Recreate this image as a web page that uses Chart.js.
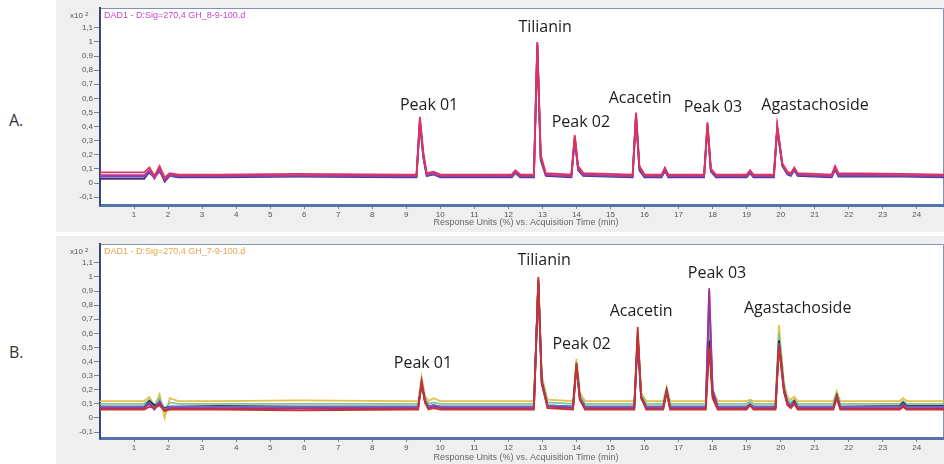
<!DOCTYPE html>
<html><head><meta charset="utf-8">
<script src="https://cdn.jsdelivr.net/npm/chart.js"></script>
<style>
html,body{margin:0;padding:0;background:#fff;width:944px;height:464px;overflow:hidden;}
#wa{position:absolute;left:0;top:0;width:944px;height:232px;}
#wb{position:absolute;left:0;top:236px;width:944px;height:228px;}
.lab{position:absolute;left:9px;font:16px "Open Sans";color:#333;}
</style></head><body>
<div class="lab" style="top:109px">A.</div>
<div class="lab" style="top:341px">B.</div>
<div id="wa"><canvas id="ca"></canvas></div>
<div id="wb"><canvas id="cb"></canvas></div>
<script>
// ---------- Panel A data ----------
const timeA = [0, 1.3, 1.45, 1.6, 1.75, 1.9, 2.05, 2.3, 3.5, 5.8, 8.9, 9.3, 9.4, 9.5, 9.6, 9.8, 10.0, 12.1, 12.2, 12.35, 12.75, 12.85, 12.95, 13.1, 13.85, 13.95, 14.05, 14.2, 15.65, 15.75, 15.85, 16.0, 16.5, 16.6, 16.7, 17.75, 17.85, 17.95, 18.1, 19.0, 19.1, 19.2, 19.8, 19.9, 20.05, 20.2, 20.3, 20.4, 20.5, 21.5, 21.6, 21.7, 23.6, 24.8];
const redA = [0.075, 0.075, 0.11, 0.05, 0.12, 0.04, 0.07, 0.06, 0.06, 0.065, 0.06, 0.06, 0.47, 0.22, 0.07, 0.08, 0.06, 0.06, 0.09, 0.06, 0.06, 1.0, 0.2, 0.07, 0.06, 0.34, 0.12, 0.07, 0.06, 0.5, 0.12, 0.06, 0.06, 0.11, 0.06, 0.06, 0.43, 0.1, 0.06, 0.06, 0.09, 0.06, 0.06, 0.41, 0.14, 0.08, 0.07, 0.11, 0.07, 0.06, 0.12, 0.07, 0.065, 0.06];
const magA = [0.055, 0.055, 0.09, 0.03, 0.1, 0.02, 0.06, 0.05, 0.05, 0.055, 0.05, 0.05, 0.45, 0.2, 0.06, 0.07, 0.05, 0.05, 0.08, 0.05, 0.05, 0.99, 0.18, 0.06, 0.05, 0.33, 0.1, 0.06, 0.05, 0.49, 0.11, 0.05, 0.05, 0.1, 0.05, 0.05, 0.42, 0.09, 0.05, 0.05, 0.08, 0.05, 0.05, 0.4, 0.13, 0.07, 0.06, 0.1, 0.06, 0.05, 0.11, 0.06, 0.055, 0.05];
const blueA = [0.045, 0.045, 0.07, 0.04, 0.08, 0.03, 0.05, 0.045, 0.045, 0.05, 0.045, 0.045, 0.44, 0.19, 0.05, 0.065, 0.045, 0.045, 0.075, 0.045, 0.045, 0.98, 0.17, 0.055, 0.045, 0.32, 0.1, 0.055, 0.045, 0.48, 0.1, 0.045, 0.045, 0.09, 0.045, 0.045, 0.41, 0.09, 0.045, 0.045, 0.075, 0.045, 0.045, 0.39, 0.13, 0.065, 0.055, 0.095, 0.055, 0.045, 0.1, 0.05, 0.05, 0.045];
const darkA = [0.03, 0.03, 0.08, 0.05, 0.09, 0.01, 0.05, 0.04, 0.04, 0.045, 0.04, 0.04, 0.43, 0.18, 0.05, 0.06, 0.04, 0.04, 0.07, 0.04, 0.04, 0.97, 0.16, 0.05, 0.04, 0.31, 0.09, 0.05, 0.04, 0.47, 0.09, 0.04, 0.04, 0.085, 0.04, 0.04, 0.4, 0.08, 0.04, 0.04, 0.07, 0.04, 0.04, 0.38, 0.12, 0.06, 0.05, 0.09, 0.05, 0.04, 0.095, 0.045, 0.045, 0.04];
const peakNamesA = ["Peak 01", "Tilianin", "Peak 02", "Acacetin", "Peak 03", "Agastachoside"];
const peakLabelXA = [9.67, 13.08, 14.13, 15.87, 18.01, 21.01];
const peakLabelYA = [0.553, 1.10, 0.433, 0.603, 0.539, 0.553];

// ---------- Panel B data ----------
const timeB = [0, 1.3, 1.45, 1.6, 1.75, 1.9, 2.05, 2.3, 3.5, 5.8, 9.0, 9.35, 9.45, 9.55, 9.65, 9.8, 10.0, 12.75, 12.88, 12.98, 13.15, 13.9, 14.0, 14.1, 14.25, 14.8, 15.7, 15.8, 15.9, 16.05, 16.55, 16.65, 16.75, 17.8, 17.9, 18.0, 18.15, 19.0, 19.1, 19.2, 19.85, 19.95, 20.1, 20.2, 20.3, 20.4, 20.5, 21.55, 21.65, 21.75, 23.5, 23.6, 23.7, 24.8];
const yellowB = [0.12, 0.12, 0.15, 0.08, 0.17, 0.0, 0.14, 0.12, 0.12, 0.125, 0.12, 0.12, 0.29, 0.16, 0.12, 0.14, 0.12, 0.12, 0.95, 0.3, 0.13, 0.12, 0.42, 0.18, 0.12, 0.12, 0.12, 0.6, 0.18, 0.12, 0.12, 0.22, 0.12, 0.12, 0.8, 0.2, 0.12, 0.12, 0.13, 0.12, 0.12, 0.66, 0.24, 0.15, 0.13, 0.15, 0.12, 0.12, 0.19, 0.12, 0.12, 0.14, 0.12, 0.12];
const greenB = [0.1, 0.1, 0.13, 0.09, 0.14, 0.06, 0.11, 0.1, 0.1, 0.1, 0.1, 0.1, 0.27, 0.14, 0.1, 0.11, 0.1, 0.1, 0.97, 0.28, 0.11, 0.1, 0.4, 0.16, 0.1, 0.1, 0.1, 0.62, 0.17, 0.1, 0.1, 0.2, 0.1, 0.1, 0.62, 0.18, 0.1, 0.1, 0.12, 0.1, 0.1, 0.6, 0.22, 0.13, 0.11, 0.13, 0.1, 0.1, 0.17, 0.1, 0.1, 0.12, 0.1, 0.1];
const blackB = [0.08, 0.08, 0.12, 0.09, 0.1, 0.07, 0.08, 0.08, 0.085, 0.08, 0.08, 0.08, 0.24, 0.12, 0.08, 0.09, 0.08, 0.08, 0.98, 0.26, 0.09, 0.08, 0.38, 0.14, 0.08, 0.08, 0.08, 0.58, 0.15, 0.08, 0.08, 0.2, 0.08, 0.08, 0.55, 0.16, 0.08, 0.08, 0.1, 0.08, 0.08, 0.55, 0.2, 0.11, 0.09, 0.12, 0.08, 0.08, 0.16, 0.08, 0.085, 0.11, 0.085, 0.085];
const redB = [0.06, 0.06, 0.08, 0.07, 0.09, 0.05, 0.06, 0.06, 0.06, 0.055, 0.06, 0.06, 0.26, 0.11, 0.06, 0.07, 0.06, 0.06, 1.0, 0.25, 0.07, 0.06, 0.39, 0.13, 0.06, 0.06, 0.06, 0.645, 0.15, 0.06, 0.06, 0.18, 0.06, 0.06, 0.5, 0.14, 0.06, 0.06, 0.09, 0.06, 0.06, 0.5, 0.18, 0.09, 0.07, 0.1, 0.06, 0.06, 0.14, 0.06, 0.06, 0.08, 0.06, 0.06];
const purpleB = [0.07, 0.07, 0.1, 0.06, 0.11, 0.05, 0.07, 0.07, 0.07, 0.07, 0.07, 0.07, 0.25, 0.11, 0.07, 0.08, 0.07, 0.07, 0.96, 0.24, 0.08, 0.07, 0.37, 0.13, 0.07, 0.07, 0.07, 0.57, 0.14, 0.07, 0.07, 0.19, 0.07, 0.07, 0.92, 0.2, 0.07, 0.07, 0.09, 0.07, 0.07, 0.52, 0.19, 0.1, 0.08, 0.11, 0.07, 0.07, 0.15, 0.07, 0.07, 0.09, 0.07, 0.07];
const blueB = [0.08, 0.08, 0.11, 0.07, 0.12, 0.06, 0.08, 0.08, 0.08, 0.08, 0.08, 0.08, 0.25, 0.12, 0.08, 0.09, 0.08, 0.08, 0.97, 0.25, 0.09, 0.08, 0.37, 0.14, 0.08, 0.08, 0.08, 0.56, 0.14, 0.08, 0.08, 0.19, 0.08, 0.08, 0.9, 0.2, 0.08, 0.08, 0.1, 0.08, 0.08, 0.53, 0.19, 0.11, 0.09, 0.11, 0.08, 0.08, 0.15, 0.08, 0.08, 0.1, 0.08, 0.08];
const peakNamesB = ["Peak 01", "Tilianin", "Peak 02", "Acacetin", "Peak 03", "Agastachoside"];
const peakLabelXB = [9.49, 13.05, 14.15, 15.9, 18.13, 20.5];
const peakLabelYB = [0.388, 1.116, 0.525, 0.759, 1.026, 0.778];

const xTickLabels = [1,2,3,4,5,6,7,8,9,10,11,12,13,14,15,16,17,18,19,20,21,22,23,24];
const yTickValues = [-0.1,0,0.1,0.2,0.3,0.4,0.5,0.6,0.7,0.8,0.9,1,1.1];

function pts(t, v){ return t.map((x,i)=>({x:x, y:v[i]})); }
function ds(t, v, color){ return {data: pts(t,v), borderColor: color, borderWidth: 1.8, pointRadius: 0, tension: 0, fill: false}; }

const framePlugin = {
  id: 'frame',
  beforeDraw(chart, args, o){
    const c = chart.ctx, a = chart.chartArea;
    c.save();
    c.fillStyle = '#efefef';
    c.fillRect(56, 0, chart.width - 56, chart.height);
    c.fillStyle = '#ffffff';
    c.fillRect(a.left, a.top, a.right - a.left, a.bottom - a.top);
    c.strokeStyle = '#7f93b8'; c.lineWidth = 1;
    c.beginPath(); c.moveTo(a.left, a.top + 0.5); c.lineTo(a.right - 0.5, a.top + 0.5); c.lineTo(a.right - 0.5, a.bottom); c.stroke();
    c.restore();
  },
  afterDraw(chart, args, o){
    const c = chart.ctx, a = chart.chartArea, xs = chart.scales.x, ys = chart.scales.y;
    c.save();
    c.textBaseline = 'middle';
    c.fillStyle = '#555'; c.font = '8px "Liberation Sans"'; c.textAlign = 'right';
    c.fillText('x10', a.left - 17, a.top + 8);
    c.font = '6px "Liberation Sans"'; c.textAlign = 'left';
    c.fillText('2', a.left - 15, a.top + 6);
    c.font = '9px "Liberation Sans"'; c.fillStyle = o.fileColor;
    c.fillText(o.file, a.left + 4, a.top + 8);
    c.font = '9px "Liberation Sans"'; c.fillStyle = '#666'; c.textAlign = 'center';
    c.fillText('Response Units (%) vs. Acquisition Time (min)', (a.left + a.right) / 2 + 4, a.bottom + o.titleDy);
    c.font = '16px "Open Sans"'; c.fillStyle = '#1c1c1c'; c.textAlign = 'center';
    o.names.forEach((n, i) => c.fillText(n, xs.getPixelForValue(o.lx[i]), ys.getPixelForValue(o.ly[i])));
    c.restore();
  }
};

function makeChart(id, datasets, yMin, yMax, padTop, xHeight, frameOpts){
  return new Chart(document.getElementById(id), {
    type: 'line',
    data: {datasets: datasets},
    plugins: [framePlugin],
    options: {
      responsive: true, maintainAspectRatio: false, animation: false,
      layout: {padding: {left: 56, top: padTop, right: 0, bottom: 0}},
      plugins: {legend: {display: false}, tooltip: {enabled: false}, frame: frameOpts},
      scales: {
        x: {
          type: 'linear', min: 0, max: 24.8,
          afterFit: s => { s.height = xHeight; },
          afterBuildTicks: s => { s.ticks = xTickLabels.map(v => ({value: v})); },
          ticks: {stepSize: 1, padding: 1, color: '#555', font: {family: 'Liberation Sans', size: 8}, maxRotation: 0, autoSkip: false},
          grid: {drawOnChartArea: false, drawTicks: true, tickLength: 4, color: '#6d82ad'},
          border: {display: true, color: '#5473aa', width: 3}
        },
        y: {
          type: 'linear', min: yMin, max: yMax,
          afterFit: s => { s.width = 44; },
          afterBuildTicks: s => { s.ticks = yTickValues.map(v => ({value: v})); },
          ticks: {padding: 1, color: '#555', font: {family: 'Liberation Sans', size: 8},
                  callback: v => String(Math.round(v * 10) / 10).replace('.', ',')},
          grid: {drawOnChartArea: false, drawTicks: true, tickLength: 6, color: '#6d82ad'},
          border: {display: true, color: '#34497a', width: 2}
        }
      }
    }
  });
}

makeChart('ca', [
  ds(timeA, redA, '#e0325a'),
  ds(timeA, magA, '#b03aa0'),
  ds(timeA, blueA, '#4f55c8'),
  ds(timeA, darkA, '#5a2a6a')
], -0.156, 1.241, 8, 27, {file: 'DAD1 - D:Sig=270,4 GH_8-9-100.d', fileColor: '#c846c8', titleDy: 18, names: peakNamesA, lx: peakLabelXA, ly: peakLabelYA});

makeChart('cb', [
  ds(timeB, redB, '#c8322d'),
  ds(timeB, purpleB, '#a0309a'),
  ds(timeB, blueB, '#5a6fc8'),
  ds(timeB, blackB, '#2b2b2b'),
  ds(timeB, greenB, '#7fc39a'),
  ds(timeB, yellowB, '#e6c04a')
], -0.142, 1.234, 8, 26, {file: 'DAD1 - D:Sig=270,4 GH_7-9-100.d', fileColor: '#e3a54a', titleDy: 20, names: peakNamesB, lx: peakLabelXB, ly: peakLabelYB});
</script>
</body></html>
